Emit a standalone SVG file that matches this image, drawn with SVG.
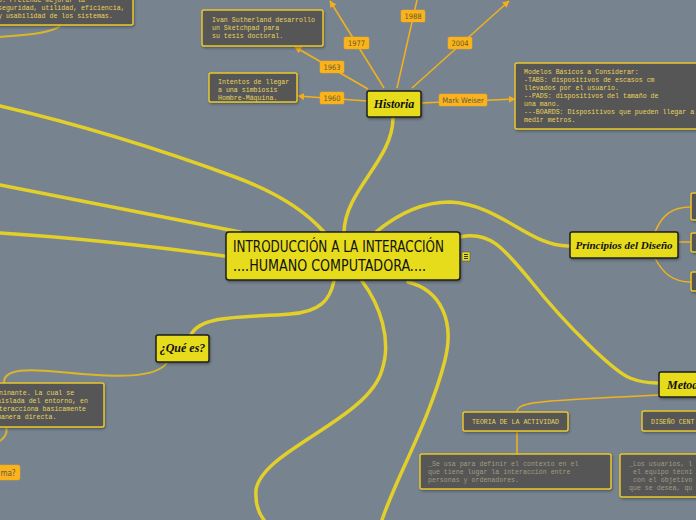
<svg xmlns="http://www.w3.org/2000/svg" width="696" height="520" viewBox="0 0 696 520">
<defs>
<marker id="arr" viewBox="0 0 10 10" refX="9" refY="5" markerWidth="7" markerHeight="7" orient="auto" markerUnits="userSpaceOnUse">
<path d="M0,0 L10,5 L0,10 z" fill="#f5ae1a"/>
</marker>
<filter id="sh" x="-10%" y="-10%" width="130%" height="140%">
<feDropShadow dx="1" dy="1.5" stdDeviation="0.8" flood-color="#222" flood-opacity="0.45"/>
</filter>
</defs>
<style>
.main{fill:none;stroke:#e2cf2a;stroke-width:3.5;stroke-linecap:round}
.sub{fill:none;stroke:#f2b21c;stroke-width:1.5}
.thin{fill:none;stroke:#dcb62a;stroke-width:2}
.ynode{fill:#e6dc1e;stroke:#1e1e1e;stroke-width:1.5;filter:url(#sh)}
.dbox{fill:#575757;stroke:#e8c82a;stroke-width:1.5;filter:url(#sh)}
.lbl{fill:#fbb31b;stroke:#f0a818;stroke-width:0.5}
.lt{font-family:"DejaVu Sans Condensed","DejaVu Sans",sans-serif;font-size:7.5px;fill:#6a5a30;text-anchor:middle}
.mono{font-family:"Liberation Mono","DejaVu Sans Mono",monospace;font-size:6.6px;fill:#e8d45e}
.muted{font-family:"Liberation Mono","DejaVu Sans Mono",monospace;font-size:6.6px;fill:#a19b80}
.script{font-family:"Liberation Serif","DejaVu Serif",serif;font-style:italic;font-weight:bold;font-size:12px;fill:#111;text-anchor:middle}
.title{font-family:"DejaVu Sans Condensed","DejaVu Sans",sans-serif;font-size:15px;fill:#111}
</style>
<rect width="696" height="520" fill="#778490"/>

<g id="connectors">
<path class="main" d="M0,106 C60,120 140,142 235,177 C265,188 300,205 324,232"/>
<path class="main" d="M0,185 C90,203 170,218 240,232"/>
<path class="main" d="M0,233 C80,238 150,246 224,256"/>
<path class="main" d="M393,118 C393,160 345,190 344,232"/>
<path class="main" d="M376,232 C400,212 425,202 450,202 C500,204 530,247 569,246"/>
<path class="main" d="M460,237 C490,230 505,250 530,280 C570,330 615,372 630,378 C640,382 650,383 657,383"/>
<path class="main" d="M334,281 C330,300 320,312 290,314 C240,318 200,315 191,335"/>
<path class="main" d="M362,281 C380,305 392,340 382,370 C368,420 262,450 256,490 C255,505 260,515 264,520"/>
<path class="main" d="M408,282 C440,290 455,320 445,360 C430,420 395,480 382,520"/>
<path class="thin" d="M60,26 C50,34 20,35 0,37"/>
<path class="thin" d="M167,363 C155,378 120,378 60,372 C30,369 3,368 4,383"/>
<path class="thin" d="M6,427 C8,433 4,438 0,441"/>
<path class="sub" d="M367,101 L298,96" marker-end="url(#arr)"/>
<path class="sub" d="M368,89 L295,47" marker-end="url(#arr)"/>
<path class="sub" d="M384,88 L330,1" marker-end="url(#arr)"/>
<path class="sub" d="M397,88 L417,0"/>
<path class="sub" d="M412,88 L509,1" marker-end="url(#arr)"/>
<path class="sub" d="M421,103 L515,99" marker-end="url(#arr)"/>
<path class="sub" d="M655,232 C662,215 672,207 691,207"/>
<path class="sub" d="M678,242 L691,242"/>
<path class="sub" d="M655,258 C662,272 672,282 691,282"/>
<path class="sub" d="M659,395 C600,398 540,400 528,404 C520,406 517,408 517,412"/>
<path class="sub" d="M517,431 L517,454"/>
</g>

<g id="lbl-1960"><rect class="lbl" x="320" y="92" width="24" height="12" rx="1.5"/><text class="lt" x="332" y="101">1960</text></g>
<g id="lbl-1963"><rect class="lbl" x="320" y="61" width="24" height="12" rx="1.5"/><text class="lt" x="332" y="70">1963</text></g>
<g id="lbl-1977"><rect class="lbl" x="344" y="37" width="25" height="12" rx="1.5"/><text class="lt" x="356.5" y="46">1977</text></g>
<g id="lbl-1988"><rect class="lbl" x="401" y="10" width="24" height="12" rx="1.5"/><text class="lt" x="413" y="19">1988</text></g>
<g id="lbl-2004"><rect class="lbl" x="448" y="37" width="24" height="12" rx="1.5"/><text class="lt" x="460" y="46">2004</text></g>
<g id="lbl-weiser"><rect class="lbl" x="439" y="94" width="48" height="12" rx="1.5"/><text class="lt" x="463" y="103" style="fill:#5e5a50">Mark Weiser</text></g>

<g id="top-left-box">
<rect class="dbox" x="-10" y="-10" width="143" height="35" rx="2"/>
<text class="mono" x="-2" y="2">o. Pretende mejorar la</text>
<text class="mono" x="-2" y="10">seguridad, utilidad, eficiencia,</text>
<text class="mono" x="-2" y="18">y usabilidad de los sistemas.</text>
</g>

<g id="ivan">
<rect class="dbox" x="202" y="10" width="121" height="36" rx="2"/>
<text class="mono" x="212" y="22">Ivan Sutherland desarrollo</text>
<text class="mono" x="212" y="30">un Sketchpad para</text>
<text class="mono" x="212" y="38">su tesis doctoral.</text>
</g>

<g id="intentos">
<rect class="dbox" x="209" y="73" width="88" height="29" rx="2"/>
<text class="mono" x="218" y="84">Intentos de llegar</text>
<text class="mono" x="218" y="92">a una simbiosis</text>
<text class="mono" x="218" y="100">Hombre-Máquina.</text>
</g>

<g id="modelos">
<rect class="dbox" x="515" y="63" width="190" height="66" rx="2"/>
<text class="mono" x="524" y="74">Modelos Básicos a Considerar:</text>
<text class="mono" x="524" y="82">-TABS: dispositivos de escasos cm</text>
<text class="mono" x="524" y="90">llevados por el usuario.</text>
<text class="mono" x="524" y="98">--PADS: dispositivos del tamaño de</text>
<text class="mono" x="524" y="106">una mano.</text>
<text class="mono" x="524" y="114">---BOARDS: Dispositivos que pueden llegar a</text>
<text class="mono" x="524" y="122">medir metros.</text>
</g>

<g id="historia">
<rect class="ynode" x="367" y="91" width="54" height="26" rx="2"/>
<text class="script" x="394" y="108">Historia</text>
</g>

<g id="central">
<rect class="ynode" x="226" y="232" width="234" height="48" rx="3"/>
<text class="title" x="233" y="252" textLength="211" lengthAdjust="spacingAndGlyphs">INTRODUCCIÓN A LA INTERACCIÓN</text>
<text class="title" x="233" y="271" textLength="193" lengthAdjust="spacingAndGlyphs">....HUMANO COMPUTADORA....</text>
</g>
<g id="note-icon">
<rect x="462" y="252" width="8" height="9" fill="#e6dc1e" stroke="#555" stroke-width="0.6"/>
<path d="M464,254.5 h4 M464,256.5 h4 M464,258.5 h4" stroke="#222" stroke-width="0.9"/>
</g>

<g id="principios">
<rect class="ynode" x="570" y="232" width="108" height="26" rx="2"/>
<text class="script" x="624" y="249" style="font-size:11px">Principios del Diseño</text>
</g>
<g id="p-box1"><rect class="dbox" x="691" y="193" width="20" height="27" rx="2"/></g>
<g id="p-box2"><rect class="dbox" x="691" y="233" width="20" height="19" rx="2"/></g>
<g id="p-box3"><rect class="dbox" x="691" y="272" width="20" height="19" rx="2"/></g>

<g id="que-es">
<rect class="ynode" x="156" y="335" width="53" height="27" rx="2"/>
<text class="script" x="182.5" y="352">¿Qué es?</text>
</g>

<g id="left-box">
<rect class="dbox" x="-10" y="383" width="114" height="44" rx="2"/>
<text class="mono" x="-1" y="395">ninante. La cual se</text>
<text class="mono" x="-3" y="403"> aislada del entorno, en</text>
<text class="mono" x="-1" y="411">teracciona basicamente</text>
<text class="mono" x="-3" y="419"> manera directa.</text>
</g>

<g id="lbl-ma"><rect class="lbl" x="-5" y="465" width="25" height="15" rx="2"/><text class="lt" x="8" y="476" style="font-size:8px;fill:#5e5a50">ma?</text></g>

<g id="metodo">
<rect class="ynode" x="659" y="372" width="60" height="25" rx="2"/>
<text class="script" x="667" y="389" style="text-anchor:start">Metodología</text>
</g>

<g id="teoria">
<rect class="dbox" x="463" y="412" width="105" height="19" rx="2"/>
<text class="mono" x="515.5" y="424" style="text-anchor:middle">TEORIA DE LA ACTIVIDAD</text>
</g>

<g id="diseno">
<rect class="dbox" x="642" y="411" width="70" height="20" rx="2"/>
<text class="mono" x="651" y="424">DISEÑO CENT</text>
</g>

<g id="se-usa">
<rect class="dbox" x="420" y="454" width="191" height="35" rx="2"/>
<text class="muted" x="428" y="466">_Se usa para definir el contexto en el</text>
<text class="muted" x="428" y="474">que tiene lugar la interacción entre</text>
<text class="muted" x="428" y="482">personas y ordenadores.</text>
</g>

<g id="usuarios">
<rect class="dbox" x="620" y="454" width="90" height="43" rx="2"/>
<text class="muted" x="629" y="466">_Los usuarios, l</text>
<text class="muted" x="633" y="474">el equipo técni</text>
<text class="muted" x="633" y="482">con el objetivo</text>
<text class="muted" x="629" y="490">que se desea, qu</text>
</g>
</svg>
